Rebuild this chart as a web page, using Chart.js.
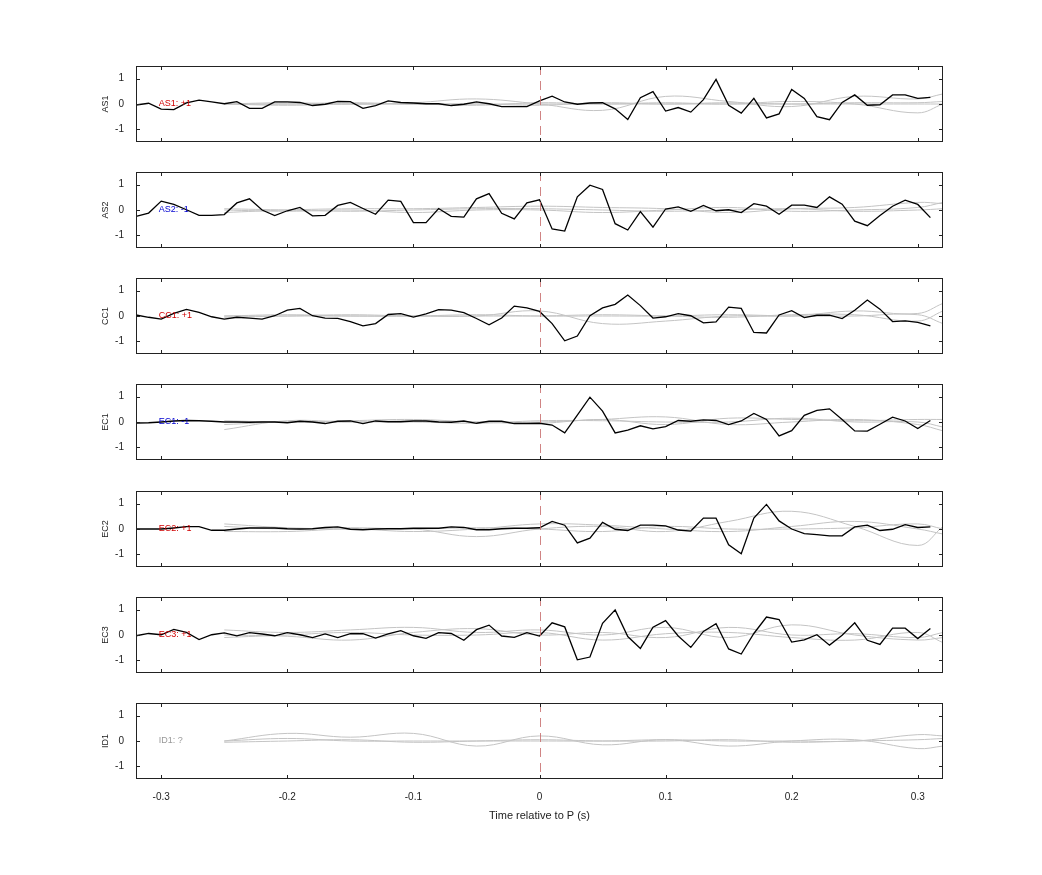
<!DOCTYPE html>
<html><head><meta charset="utf-8">
<script src="https://cdn.jsdelivr.net/npm/chart.js@4/dist/chart.umd.min.js"></script>
<style>body{margin:0;background:#fff;width:1042px;height:875px;position:relative;overflow:hidden}
.p{position:absolute;left:96px;width:864px}</style></head><body>
<script>
const panelNames=["AS1","AS2","CC1","EC1","EC2","EC3","ID1"];
const panelLabels=["AS1: +1","AS2: -1","CC1: +1","EC1: -1","EC2: +1","EC3: +1","ID1: ?"];
const labelColors=["#d00000","#0000d0","#d00000","#0000d0","#d00000","#d00000","#999999"];
const xTicks=[-0.3,-0.2,-0.1,0,0.1,0.2,0.3];
const yTicks=[-1,0,1];
const blackX=[-0.32,-0.31,-0.30,-0.29,-0.28,-0.27,-0.26,-0.25,-0.24,-0.23,-0.22,-0.21,-0.20,-0.19,-0.18,-0.17,-0.16,-0.15,-0.14,-0.13,-0.12,-0.11,-0.10,-0.09,-0.08,-0.07,-0.06,-0.05,-0.04,-0.03,-0.02,-0.01,0,0.01,0.02,0.03,0.04,0.05,0.06,0.07,0.08,0.09,0.10,0.11,0.12,0.13,0.14,0.15,0.16,0.17,0.18,0.19,0.20,0.21,0.22,0.23,0.24,0.25,0.26,0.27,0.28,0.29,0.30,0.31];
const AS1=[-0.04,0.03,-0.2,-0.22,0.04,0.15,0.08,0.01,0.09,-0.17,-0.17,0.08,0.08,0.06,-0.06,-0.01,0.1,0.09,-0.17,-0.06,0.12,0.06,0.04,0.01,0.01,-0.06,-0.01,0.08,0.01,-0.1,-0.1,-0.1,0.12,0.31,0.08,-0.01,0.04,0.05,-0.19,-0.61,0.25,0.49,-0.28,-0.14,-0.32,0.17,0.97,-0.05,-0.36,0.22,-0.55,-0.39,0.57,0.22,-0.5,-0.62,0.06,0.36,-0.05,-0.03,0.36,0.36,0.22,0.26];
const AS2=[-0.25,-0.12,0.35,0.22,0.01,-0.21,-0.21,-0.18,0.28,0.44,0,-0.22,-0.03,0.1,-0.23,-0.21,0.18,0.3,0.06,-0.17,0.39,0.34,-0.5,-0.5,0.06,-0.25,-0.28,0.44,0.65,-0.13,-0.35,0.28,0.4,-0.75,-0.83,0.52,0.98,0.81,-0.54,-0.79,-0.06,-0.68,0.04,0.12,-0.05,0.18,-0.03,0.01,-0.1,0.25,0.15,-0.17,0.19,0.19,0.1,0.52,0.23,-0.44,-0.62,-0.22,0.15,0.39,0.22,-0.3];
const CC1=[0.04,-0.05,-0.12,0.1,0.26,0.14,-0.03,-0.12,-0.05,-0.08,-0.12,0.01,0.23,0.3,0.01,-0.08,-0.09,-0.22,-0.39,-0.3,0.06,0.09,-0.04,0.08,0.25,0.23,0.13,-0.1,-0.35,-0.08,0.39,0.32,0.18,-0.3,-0.98,-0.79,0.01,0.32,0.46,0.83,0.41,-0.08,-0.03,0.09,0.01,-0.27,-0.23,0.35,0.3,-0.65,-0.67,0.04,0.21,-0.06,0.03,0.03,-0.1,0.23,0.63,0.27,-0.22,-0.19,-0.25,-0.39];
const EC1=[-0.04,-0.03,0,0.04,0.06,0.05,0.03,0,0,-0.01,0,0,-0.03,0.03,0,-0.06,0.03,0.04,-0.06,0.04,0.01,0.01,0.04,0.04,0,-0.01,0.04,-0.05,0.03,0.03,-0.06,-0.06,-0.05,-0.12,-0.43,0.27,0.98,0.43,-0.43,-0.32,-0.15,-0.27,-0.18,0.06,0.03,0.08,0.06,-0.1,0.04,0.34,0.1,-0.55,-0.34,0.26,0.46,0.52,0.1,-0.35,-0.36,-0.09,0.19,0.04,-0.26,0.06];
const EC2=[0,0,0,0.04,0.09,0.09,-0.05,-0.05,0,0.04,0.04,0.04,0.01,0,0.01,0.06,0.08,-0.01,-0.03,0,0.01,0.01,0.03,0.03,0.03,0.08,0.06,-0.03,-0.03,0.01,0.03,0.03,0.05,0.3,0.15,-0.55,-0.36,0.26,-0.01,-0.06,0.15,0.15,0.12,-0.04,-0.08,0.43,0.43,-0.62,-0.98,0.43,0.97,0.32,0,-0.18,-0.22,-0.27,-0.27,0.08,0.15,-0.06,-0.01,0.17,0.06,0.08];
const EC3=[-0.03,0.06,0.01,0.22,0.1,-0.18,0.01,0.08,-0.03,0.09,0.04,-0.03,0.09,0.01,-0.1,0.04,-0.1,0.05,0.05,-0.12,0.04,0.17,-0.03,-0.13,0.09,0.06,-0.21,0.21,0.39,-0.04,-0.09,0.09,-0.04,0.48,0.32,-0.98,-0.87,0.46,0.99,-0.06,-0.53,0.31,0.57,-0.04,-0.49,0.14,0.45,-0.55,-0.75,0.06,0.71,0.61,-0.28,-0.19,0.01,-0.4,-0.01,0.48,-0.21,-0.37,0.27,0.27,-0.14,0.26];
const blackSeries=[AS1,AS2,CC1,EC1,EC2,EC3,null];
const grayX=[-0.25,-0.2,-0.15,-0.1,-0.05,0,0.05,0.1,0.15,0.2,0.25,0.3,0.32];
const grayAS1=[[0,0.05,0,0.05,0.2,0,-0.25,0.3,0.1,-0.1,0.3,0.2,0.4],[0,-0.05,0,0,-0.05,0.05,0,0.05,0,0.1,0,-0.35,0],[0,0,0.05,0,0,-0.05,0.05,0,0.05,0,0.05,0.05,0.1],[0,0,0,0,0,0,0,0,0,0,0,0,0]];
const grayAS2=[[-0.1,0,0.05,0.05,0.1,0.15,0.1,0.05,-0.1,0.05,0.1,0.3,0.25],[0,-0.05,0,-0.1,0,0,-0.1,0,0.1,-0.05,0,0.1,0.3],[0.05,0,-0.05,0,0.05,0.05,0,-0.05,0,0.05,-0.05,0,0.05]];
const grayCC1=[[0,0,0,0,0,0.2,-0.3,-0.2,0,0,0.2,0.1,0.5],[-0.05,0,0.05,0,0,0,0.05,0,-0.05,0.05,0.05,-0.2,0.2],[0,0.05,0,0,0.05,0,0,0,0.05,0,0,0.05,-0.3]];
const grayEC1=[[-0.3,0.05,0,0.05,0,0,0.1,0.2,-0.1,0,0.1,-0.1,-0.35],[0.05,0,0.05,0.1,0,-0.05,0.1,-0.1,0.15,0.1,0.05,0.1,0.1],[-0.1,0,0,0,-0.05,0.05,0.05,0,0,0.15,0,0,-0.2]];
const grayEC2=[[0.2,0.05,0,0,-0.3,0,0.1,-0.1,0.3,0.7,0.1,-0.65,0.1],[-0.1,-0.1,0,-0.1,0,0.2,0.15,0,-0.1,0.1,0.3,0,-0.2],[0.1,0,0.05,0,0.05,0,-0.1,0.1,0,0,0.05,0.2,0]];
const grayEC3=[[0.2,0.1,0.2,0.3,0.1,0.2,0,0.3,-0.1,0.4,0,-0.2,-0.1],[-0.1,0,0.1,0,0,0.1,-0.2,0.05,0.1,-0.1,-0.2,0.1,-0.3],[0,-0.05,-0.2,0.1,0.25,0,0.1,-0.1,0.3,0,0.05,-0.1,0.1]];
const grayID1=[[0,0.3,0.15,0.3,-0.2,0.2,-0.15,0.05,-0.2,0,0.05,-0.3,-0.2],[0,0.1,0,0,0,0,0,0.05,0,0,0,0.25,0.2],[-0.05,0,0.05,-0.05,0,0.05,0,0,0.05,-0.05,0,0.05,0.1]];
const graySeries=[grayAS1,grayAS2,grayCC1,grayEC1,grayEC2,grayEC3,grayID1];
const panelTops=[66,172,278,384,491,597,703];
const PAD=10;

const deco={id:'deco',afterDatasetsDraw(c,a,o){
  const ctx=c.ctx,ca=c.chartArea,xs=c.scales.x,ys=c.scales.y;
  ctx.save();
  ctx.strokeStyle='rgba(200,110,110,0.85)';ctx.lineWidth=1;ctx.setLineDash([9,6]);
  const x0=Math.round(xs.getPixelForValue(0))+0.5;ctx.beginPath();ctx.moveTo(x0,ca.top);ctx.lineTo(x0,ca.bottom);ctx.stroke();
  ctx.setLineDash([]);
  ctx.strokeStyle='#222';ctx.lineWidth=1;ctx.strokeRect(ca.left+0.5,ca.top+0.5,ca.right-ca.left-1,ca.bottom-ca.top-1);
  ctx.beginPath();
  xTicks.forEach(v=>{const p=Math.round(xs.getPixelForValue(v))+0.5;ctx.moveTo(p,ca.top);ctx.lineTo(p,ca.top+4);ctx.moveTo(p,ca.bottom);ctx.lineTo(p,ca.bottom-4);});
  yTicks.forEach(v=>{const p=Math.round(ys.getPixelForValue(v))+0.5;ctx.moveTo(ca.left,p);ctx.lineTo(ca.left+4,p);ctx.moveTo(ca.right,p);ctx.lineTo(ca.right-4,p);});
  ctx.stroke();
  ctx.fillStyle=o.color;ctx.font='9px "Liberation Sans",Arial';ctx.textBaseline='middle';
  ctx.fillText(o.text,xs.getPixelForValue(-0.302),ys.getPixelForValue(0));
  ctx.restore();
}};

panelNames.forEach((name,i)=>{
  const last=i===6;
  const div=document.createElement('div');div.className='p';
  div.style.top=(panelTops[i]-PAD)+'px';div.style.height=(last?76+PAD+48:76+2*PAD)+'px';
  const cv=document.createElement('canvas');div.appendChild(cv);document.body.appendChild(div);
  const ds=[];
  graySeries[i].forEach(g=>ds.push({data:grayX.map((x,k)=>({x,y:g[k]})),borderColor:'#c4c4c4',borderWidth:1,pointRadius:0,tension:0.4,order:2}));
  if(blackSeries[i]) ds.push({data:blackX.map((x,k)=>({x,y:blackSeries[i][k]})),borderColor:'#000',borderWidth:1.3,pointRadius:0,tension:0,order:1});
  new Chart(cv,{type:'line',data:{datasets:ds},plugins:[deco],options:{
    responsive:true,maintainAspectRatio:false,animation:false,events:[],
    layout:{padding:{top:0,right:17,bottom:last?0:PAD,left:0}},
    plugins:{legend:{display:false},tooltip:{enabled:false},deco:{text:panelLabels[i],color:labelColors[i]}},
    scales:{
      x:{type:'linear',min:-0.32,max:0.32,display:true,grid:{display:false},border:{display:false},
         afterBuildTicks:s=>{s.ticks=xTicks.map(v=>({value:v}));},
         afterFit:s=>{s.height=last?48:0;},
         ticks:{display:last,color:'#222',font:{size:10,family:'"Liberation Sans",Arial'},padding:4,callback:v=>v===0?'0':String(v)},
         title:{display:last,text:'Time relative to P (s)',color:'#222',font:{size:11,family:'"Liberation Sans",Arial'},padding:{top:10}}},
      y:{min:-1.5,max:1.5,grid:{display:false},border:{display:false},
         afterBuildTicks:s=>{s.ticks=yTicks.map(v=>({value:v}));},
         afterFit:s=>{s.width=40;},
         ticks:{color:'#222',font:{size:10,family:'"Liberation Sans",Arial'},padding:4},
         title:{display:true,text:name,color:'#222',font:{size:9,family:'"Liberation Sans",Arial'},padding:{bottom:2}}}
    }}});
});
</script></body></html>
